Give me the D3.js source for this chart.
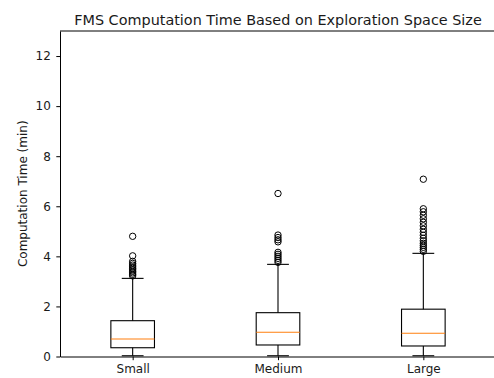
<!DOCTYPE html>
<html>
<head>
<meta charset="utf-8">
<script src="https://cdn.jsdelivr.net/npm/d3@7"></script>
<style>
  html, body { margin: 0; padding: 0; background: #fff; }
  svg { display: block; }
  text { font-family: "DejaVu Sans", sans-serif; fill: #1a1a1a; }
</style>
</head>
<body>
<script>
// Exploration space size groups
const categories = ["Small", "Medium", "Large"];

// Box statistics per group (minutes)
const whiskerLow  = [0.03, 0.03, 0.03];
const q1          = [0.35, 0.46, 0.42];
const medians     = [0.70, 0.97, 0.93];
const q3          = [1.43, 1.75, 1.89];
const whiskerHigh = [3.12, 3.68, 4.12];

// Points beyond the whiskers
const outliersSmall  = [3.22, 3.28, 3.34, 3.40, 3.46, 3.52, 3.58, 3.65, 3.72, 3.80, 4.02, 4.80];
const outliersMedium = [3.76, 3.84, 3.92, 4.00, 4.08, 4.16, 4.58, 4.66, 4.75, 4.85, 6.51];
const outliersLarge  = [4.20, 4.28, 4.36, 4.44, 4.52, 4.62, 4.72, 4.84, 4.96, 5.08, 5.22, 5.36, 5.50, 5.64, 5.78, 5.90, 7.08];
const outliers = [outliersSmall, outliersMedium, outliersLarge];

const yTicks = [0, 2, 4, 6, 8, 10, 12];

const W = 494, H = 378;
const svg = d3.select("body").append("svg").attr("width", W).attr("height", H);

const plotLeft = 60, plotRight = 496, plotTop = 31, plotBottom = 356.5;

const x = d3.scaleLinear().domain([0.5, 3.5]).range([plotLeft, plotRight]);
const y = d3.scaleLinear().domain([0, 13]).range([plotBottom, plotTop]);
const pos = i => x(i + 1);

const boxHalf = 0.15;   // half box width in x units
const capHalf = 0.075;  // half whisker-cap width
const labelSize = "12px";

// Axes
const yAxis = d3.axisLeft(y).tickValues(yTicks).tickSize(3.7).tickPadding(5.5).tickSizeOuter(0);
const gy = svg.append("g").attr("transform", `translate(${plotLeft},0)`).call(yAxis);
gy.selectAll("text").style("font-size", labelSize).attr("fill", "#1a1a1a");

const xAxis = d3.axisBottom(x).tickValues([1, 2, 3]).tickFormat(d => categories[d - 1])
  .tickSize(3.7).tickPadding(3.8).tickSizeOuter(0);
const gx = svg.append("g").attr("transform", `translate(0,${plotBottom})`).call(xAxis);
gx.selectAll("text").style("font-size", labelSize).attr("fill", "#1a1a1a");

[gx, gy].forEach(g => {
  g.selectAll("path, line").attr("stroke", "#000").attr("stroke-width", 1);
});

// Top and right spines
svg.append("line").attr("x1", plotLeft).attr("x2", plotRight).attr("y1", y(13)).attr("y2", y(13))
  .attr("stroke", "#000").attr("stroke-width", 1);
svg.append("line").attr("x1", plotRight).attr("x2", plotRight).attr("y1", y(13)).attr("y2", plotBottom)
  .attr("stroke", "#000").attr("stroke-width", 1);

// Boxes
const g = svg.append("g");
categories.forEach((c, i) => {
  const cx = pos(i);
  const grp = g.append("g");
  // whiskers
  grp.append("line").attr("x1", cx).attr("x2", cx).attr("y1", y(q1[i])).attr("y2", y(whiskerLow[i]))
    .attr("stroke", "#000").attr("stroke-width", 1.1);
  grp.append("line").attr("x1", cx).attr("x2", cx).attr("y1", y(q3[i])).attr("y2", y(whiskerHigh[i]))
    .attr("stroke", "#000").attr("stroke-width", 1.1);
  // caps
  [whiskerLow[i], whiskerHigh[i]].forEach(v => {
    grp.append("line").attr("x1", x(i + 1 - capHalf)).attr("x2", x(i + 1 + capHalf))
      .attr("y1", y(v)).attr("y2", y(v)).attr("stroke", "#000").attr("stroke-width", 1.1);
  });
  // box
  grp.append("rect")
    .attr("x", x(i + 1 - boxHalf)).attr("width", x(i + 1 + boxHalf) - x(i + 1 - boxHalf))
    .attr("y", y(q3[i])).attr("height", y(q1[i]) - y(q3[i]))
    .attr("fill", "none").attr("stroke", "#000").attr("stroke-width", 1.1);
  // median
  grp.append("line").attr("x1", x(i + 1 - boxHalf)).attr("x2", x(i + 1 + boxHalf))
    .attr("y1", y(medians[i])).attr("y2", y(medians[i]))
    .attr("stroke", "#ff7f0e").attr("stroke-width", 1.1);
  // outliers
  grp.selectAll("circle").data(outliers[i]).join("circle")
    .attr("cx", cx).attr("cy", d => y(d)).attr("r", 3.2)
    .attr("fill", "none").attr("stroke", "#000").attr("stroke-width", 1);
});

// Title and axis label
svg.append("text").attr("x", (plotLeft + plotRight) / 2).attr("y", 24.5).attr("text-anchor", "middle")
  .style("font-size", "14.4px").text("FMS Computation Time Based on Exploration Space Size");

svg.append("text").attr("transform", `translate(27,${(plotTop + plotBottom) / 2}) rotate(-90)`)
  .attr("text-anchor", "middle").style("font-size", labelSize).text("Computation Time (min)");
</script>
</body>
</html>
